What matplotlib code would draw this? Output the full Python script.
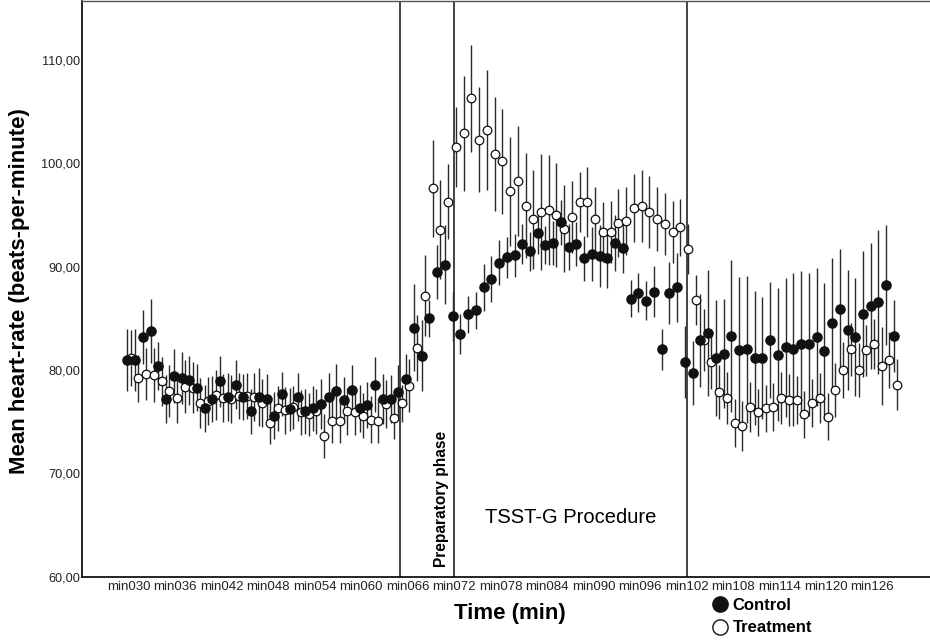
#!/usr/bin/env python
# coding: utf-8

import numpy as np
from matplotlib import pyplot as plt
from matplotlib.lines import Line2D

plt.rcParams['font.family'] = ['Liberation Sans', 'DejaVu Sans']

# one category per minute, min030 .. min129
minutes = list(range(30, 130))
categories = [f'min{m:03d}' for m in minutes]
tick_labels = [c for c in categories if (int(c[3:]) - 30) % 6 == 0]

control_mean = [
    81.0, 81.0, 83.2, 83.8, 80.4, 77.2, 79.4, 79.2, 79.0, 78.3,
    76.3, 77.2, 78.9, 77.4, 78.6, 77.4, 76.0, 77.4, 77.2, 75.6,
    77.7, 76.2, 77.4, 76.0, 76.3, 76.7, 77.4, 78.0, 77.1, 78.1,
    76.3, 76.6, 78.6, 77.2, 77.2, 77.9, 79.1, 84.1, 81.4, 85.0,
    89.5, 90.2, 85.2, 83.5, 85.4, 85.8, 88.0, 88.8, 90.4, 90.9,
    91.1, 92.2, 91.5, 93.3, 92.1, 92.3, 94.3, 91.9, 92.2, 90.8,
    91.2, 91.0, 90.8, 92.3, 91.8, 86.9, 87.5, 86.7, 87.6, 82.0,
    87.5, 88.0, 80.8, 79.7, 82.9, 83.6, 81.2, 81.6, 83.3, 81.9,
    82.0, 81.2, 81.2, 82.9, 81.5, 82.2, 82.0, 82.5, 82.5, 83.2,
    81.8, 84.6, 85.9, 83.9, 83.2, 85.4, 86.2, 86.6, 88.2, 83.3,
]
control_err = [
    3.0, 3.0, 2.6, 3.1, 2.3, 2.3, 2.6, 2.5, 2.4, 2.3,
    2.3, 2.2, 2.5, 2.3, 2.4, 2.2, 2.2, 2.8, 2.4, 2.3,
    2.1, 2.1, 2.3, 2.2, 2.2, 2.4, 2.3, 2.6, 2.2, 2.4,
    2.3, 2.2, 2.7, 2.4, 2.3, 2.6, 2.5, 4.2, 3.4, 1.8,
    2.6, 3.8, 2.4, 1.9, 1.8, 1.8, 2.3, 2.2, 2.2, 2.0,
    2.1, 1.9, 1.9, 2.1, 1.8, 2.1, 2.2, 2.2, 2.1, 2.2,
    2.6, 3.0, 2.9, 2.7, 2.4, 1.8, 1.9, 1.9, 2.5, 2.0,
    3.0, 3.3, 3.5, 3.1, 4.5, 6.1, 5.6, 5.3, 7.4, 7.1,
    7.1, 6.5, 5.9, 5.6, 6.4, 6.7, 7.4, 7.1, 6.9, 6.7,
    6.6, 6.2, 5.8, 5.8, 5.7, 6.1, 6.1, 7.0, 5.8, 3.5,
]
treatment_mean = [
    81.2, 79.2, 79.6, 79.5, 78.9, 78.0, 77.3, 78.4, 78.3, 76.8,
    77.0, 77.6, 77.3, 77.2, 77.5, 77.5, 77.4, 76.8, 74.9, 76.3,
    76.1, 76.4, 75.9, 75.7, 76.0, 73.6, 75.1, 75.1, 76.0, 75.9,
    75.6, 75.2, 75.1, 76.7, 75.4, 76.8, 78.5, 82.1, 87.2, 97.6,
    93.6, 96.3, 101.6, 102.9, 106.3, 102.3, 103.2, 100.9, 100.2, 97.3,
    98.3, 95.9, 94.6, 95.3, 95.5, 95.0, 93.7, 94.8, 96.3, 96.3,
    94.6, 93.4, 93.4, 94.2, 94.4, 95.7, 95.9, 95.3, 94.6, 94.1,
    93.4, 93.8, 91.7, 86.8, 82.9, 80.8, 77.9, 77.3, 74.9, 74.6,
    76.4, 75.9, 76.3, 76.4, 77.3, 77.1, 77.1, 75.7, 76.8, 77.3,
    75.5, 78.1, 80.0, 82.0, 80.0, 81.9, 82.5, 80.4, 81.0, 78.6,
]
treatment_err = [
    2.7, 2.3, 2.5, 2.6, 2.4, 2.5, 2.4, 2.6, 2.5, 2.4,
    2.3, 2.4, 2.3, 2.3, 2.2, 2.2, 2.3, 2.3, 2.1, 2.2,
    2.3, 2.1, 2.2, 2.1, 2.2, 2.1, 2.2, 2.2, 2.3, 2.2,
    2.2, 2.3, 2.2, 2.3, 2.1, 1.8, 2.6, 3.2, 3.9, 4.7,
    4.8, 3.6, 3.9, 5.6, 5.2, 5.1, 5.8, 5.5, 5.1, 5.3,
    5.3, 5.1, 4.8, 5.6, 5.3, 5.0, 4.2, 3.5, 2.9, 3.4,
    3.1, 2.9, 3.0, 3.3, 3.3, 3.3, 3.5, 3.5, 3.1, 3.0,
    3.0, 2.8, 2.4, 2.4, 3.0, 2.6, 2.6, 2.5, 2.3, 2.4,
    2.4, 2.3, 2.3, 2.3, 2.5, 2.5, 2.3, 2.3, 2.3, 2.4,
    2.3, 2.6, 2.7, 2.6, 2.6, 2.5, 2.4, 3.8, 2.7, 2.5,
]

# phase boundaries
phase_lines = ['min065', 'min072', 'min102']


def main():
    fig = plt.figure(figsize=(9.3, 6.44), dpi=100)
    ax = fig.add_axes([81.7 / 930, 67.3 / 644, (932 - 81.7) / 930, 576 / 644])

    x = np.arange(len(categories))
    dodge = 0.21

    ax.errorbar(x + dodge, treatment_mean, yerr=treatment_err, fmt='none',
                ecolor='#2a2a2a', elinewidth=1.0, capsize=0, zorder=2)
    ax.errorbar(x - dodge, control_mean, yerr=control_err, fmt='none',
                ecolor='#2a2a2a', elinewidth=1.0, capsize=0, zorder=2)
    ax.plot(x + dodge, treatment_mean, 'o', ms=6.2, mfc='white', mec='#111111',
            mew=0.9, ls='none', zorder=3)
    ax.plot(x - dodge, control_mean, 'o', ms=6.6, mfc='#111111', mec='#111111',
            ls='none', zorder=4)

    for name in phase_lines:
        ax.axvline(categories.index(name), color='#111111', lw=1.1, zorder=1)

    ax.set_xlim(-6.1, 103.7)
    ax.set_ylim(60, 115.75)

    ax.set_xticks([categories.index(t) for t in tick_labels])
    ax.set_xticklabels(tick_labels, fontsize=9.5)
    yt = [60, 70, 80, 90, 100, 110]
    ax.set_yticks(yt)
    ax.set_yticklabels([f'{v:.2f}'.replace('.', ',') for v in yt], fontsize=9.2)
    ax.tick_params(axis='both', length=0, colors='#222222')
    ax.tick_params(axis='x', pad=3)
    ax.tick_params(axis='y', pad=1)

    ax.spines['right'].set_visible(False)
    ax.spines['left'].set_linewidth(1.2)
    ax.spines['bottom'].set_linewidth(1.2)
    ax.spines['top'].set_color('#555555')
    ax.spines['top'].set_linewidth(1.0)

    ax.text(categories.index('min070') + 0.3, 67.5, 'Preparatory phase', rotation=90,
            ha='center', va='center', fontsize=11.2, fontweight='bold')
    ax.text(categories.index('min087'), 65.7, 'TSST-G Procedure',
            ha='center', va='center', fontsize=14.5)

    fig.text(20 / 930, 1 - 291.5 / 644, 'Mean heart-rate (beats-per-minute)',
             rotation=90, ha='center', va='center', fontsize=16, fontweight='bold')
    fig.text(510 / 930, 1 - 613 / 644, 'Time (min)',
             ha='center', va='center', fontsize=16, fontweight='bold')

    handles = [
        Line2D([], [], marker='o', ls='none', ms=11, mfc='#111111', mec='#111111'),
        Line2D([], [], marker='o', ls='none', ms=11, mfc='white', mec='#111111', mew=1.0),
    ]
    fig.legend(handles, ['Control', 'Treatment'], loc='upper left',
               bbox_to_anchor=(712 / 930, 1 - 598 / 644), frameon=False,
               handlelength=1.0, handletextpad=0.25, labelspacing=0.45,
               borderaxespad=0, borderpad=0,
               prop={'weight': 'bold', 'size': 12})

    fig.savefig('out.png', dpi=100)


if __name__ == '__main__':
    main()
